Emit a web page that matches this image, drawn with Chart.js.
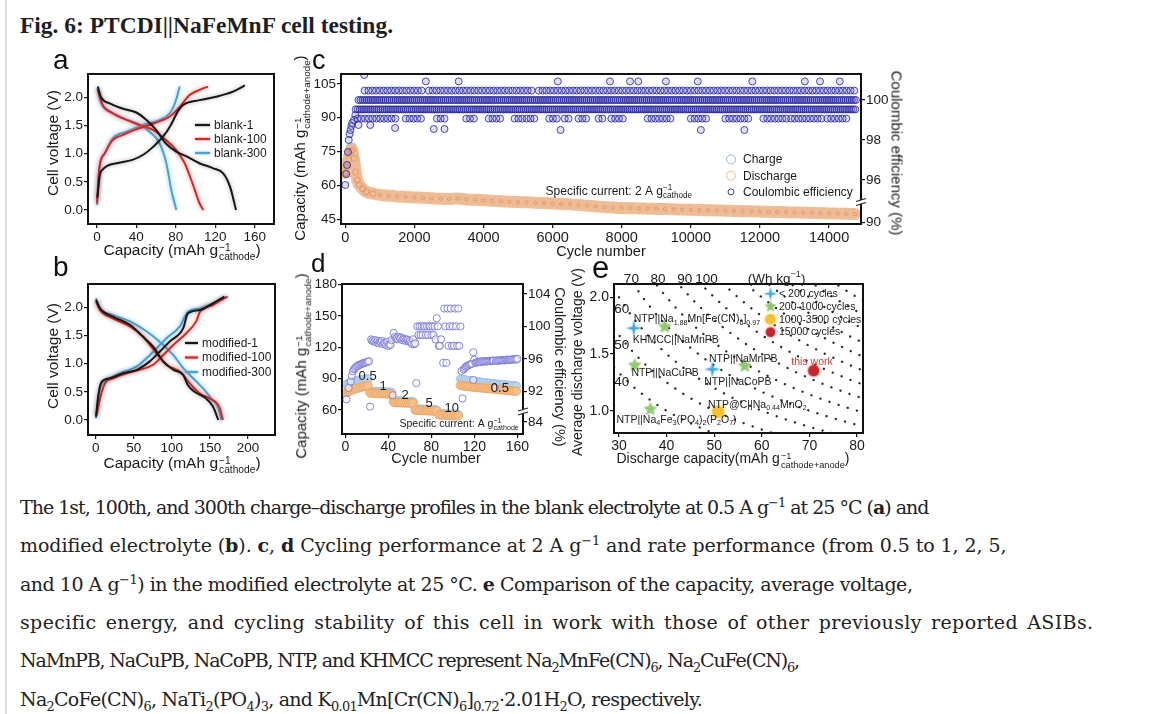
<!DOCTYPE html>
<html lang="en"><head><meta charset="utf-8"><title>Fig. 6: PTCDI||NaFeMnF cell testing</title>
<script src="https://cdn.jsdelivr.net/npm/chart.js@4.4.1/dist/chart.umd.min.js"></script>
<style>
html,body{margin:0;padding:0;background:#fff}
body{width:1152px;height:714px;position:relative;overflow:hidden;font-family:'Liberation Sans',Arial,sans-serif;color:#1a1a1a}
#bar{position:absolute;left:5px;top:0;width:2px;height:714px;background:#dcdcdc}
#title{position:absolute;left:20px;top:13px;font-family:'Liberation Serif',serif;font-weight:bold;font-size:24px;line-height:24px;white-space:nowrap;transform-origin:0 0;color:#1f1f1f}
canvas{position:absolute}
.pl{position:absolute;line-height:1;color:#111}
.at{position:absolute;white-space:nowrap;line-height:1;color:#1a1a1a;transform:translate(-50%,-50%)}
.at.ccw{transform:translate(-50%,-50%) rotate(-90deg)}
.at.cw{transform:translate(-50%,-50%) rotate(90deg)}
.ss{display:inline-flex;flex-direction:column;font-size:0.66em;line-height:0.95;vertical-align:0.42em;margin-left:1px}
#cap{position:absolute;left:20px;top:488px;font-family:'DejaVu Serif',serif;font-size:19px;color:#222}
#cap div{height:38.33px;line-height:38.33px;white-space:nowrap;width:max-content}
#cap sub,#cap sup{font-size:0.68em;line-height:0}
</style></head>
<body>
<div id="bar"></div>
<div id="title">Fig. 6: PTCDI||NaFeMnF cell testing.</div>

<canvas id="ca"></canvas><canvas id="cb"></canvas><canvas id="cc"></canvas><canvas id="cd"></canvas><canvas id="ce"></canvas>

<div class="pl" style="left:53px;top:46px;font-size:28px">a</div>
<div class="pl" style="left:53px;top:253px;font-size:28px">b</div>
<div class="pl" style="left:312px;top:47px;font-size:27px">c</div>
<div class="pl" style="left:311px;top:250px;font-size:26px">d</div>
<div class="pl" style="left:592px;top:252px;font-size:31px">e</div>

<div class="at ccw" style="left:53px;top:143px;font-size:15.5px">Cell voltage (V)</div>
<div class="at" style="left:182px;top:252px;font-size:15.5px">Capacity (mAh g<span class="ss"><span>−1</span><span>cathode</span></span>)</div>
<div class="at ccw" style="left:53px;top:356px;font-size:15.5px">Cell voltage (V)</div>
<div class="at" style="left:182px;top:465px;font-size:15.5px">Capacity (mAh g<span class="ss"><span>−1</span><span>cathode</span></span>)</div>

<div class="at ccw" style="left:302px;top:148px;font-size:15px">Capacity (mAh g<span class="ss"><span>−1</span><span>cathode+anode</span></span>)</div>
<div class="at cw" style="left:897px;top:153px;font-size:15px">Coulombic efficiency (%)</div>
<div class="at" style="left:601px;top:251px;font-size:14.5px">Cycle number</div>

<div class="at ccw" style="left:303px;top:366px;font-size:15px">Capacity (mAh g<span class="ss"><span>−1</span><span>cathode+anode</span></span>)</div>
<div class="at cw" style="left:560px;top:367px;font-size:14.5px">Coulombic efficiency (%)</div>
<div class="at" style="left:436px;top:458px;font-size:14.5px">Cycle number</div>

<div class="at ccw" style="left:577px;top:362px;font-size:14px">Average discharge voltage (V)</div>
<div class="at" style="left:733px;top:460px;font-size:14px">Discharge capacity(mAh g<span class="ss"><span>−1</span><span>cathode+anode</span></span>)</div>

<div id="cap">
<div data-w="908">The 1st, 100th, and 300th charge–discharge profiles in the blank electrolyte at 0.5 A g<sup>−1</sup> at 25 °C (<b>a</b>) and</div>
<div data-w="986">modified electrolyte (<b>b</b>). <b>c</b>, <b>d</b> Cycling performance at 2 A g<sup>−1</sup> and rate performance (from 0.5 to 1, 2, 5,</div>
<div data-w="892">and 10 A g<sup>−1</sup>) in the modified electrolyte at 25 °C. <b>e</b> Comparison of the capacity, average voltage,</div>
<div data-w="1073">specific energy, and cycling stability of this cell in work with those of other previously reported ASIBs.</div>
<div data-w="779">NaMnPB, NaCuPB, NaCoPB, NTP, and KHMCC represent Na<sub>2</sub>MnFe(CN)<sub>6</sub>, Na<sub>2</sub>CuFe(CN)<sub>6</sub>,</div>
<div data-w="682">Na<sub>2</sub>CoFe(CN)<sub>6</sub>, NaTi<sub>2</sub>(PO<sub>4</sub>)<sub>3</sub>, and K<sub>0.01</sub>Mn[Cr(CN)<sub>6</sub>]<sub>0.72</sub>·2.01H<sub>2</sub>O, respectively.</div>
</div>

<script>
// ---------------- DATA ----------------
// (a) blank electrolyte: [capacity mAh/g, voltage V]
const aLabels = ['blank-1', 'blank-100', 'blank-300'];
const blank1Charge = [[0.5,0.22],[3,0.62],[6,0.72],[10,0.78],[20,0.83],[36,0.89],[47,0.98],[57,1.12],[67,1.30],[75,1.51],[82,1.75],[87,1.86],[104,1.95],[121,2.01],[138,2.10],[150,2.21]];
const blank1Discharge = [[1,2.19],[4,2.01],[13,1.89],[26,1.80],[40,1.73],[50,1.60],[60,1.42],[70,1.18],[80,1.04],[91,0.95],[104,0.83],[118,0.74],[128,0.65],[135,0.41],[141,0.0]];
const blank100Charge = [[0,0.12],[2.7,0.77],[7.8,1.0],[16,1.24],[26,1.33],[43,1.45],[60,1.55],[74,1.66],[84,1.83],[94,2.04],[104,2.13],[112.6,2.19]];
const blank100Discharge = [[1,2.13],[6,1.86],[16,1.72],[30,1.60],[43,1.51],[57,1.42],[70,1.24],[80,1.07],[89,0.83],[97,0.47],[104,0.12],[108,0.0]];
const blank300Charge = [[0.3,0.09],[2.7,0.77],[7.8,1.0],[16,1.27],[30,1.39],[47,1.51],[64,1.60],[74,1.72],[79,1.89],[84,2.19]];
const blank300Discharge = [[0.3,2.16],[4.4,1.89],[13,1.75],[26,1.63],[40,1.54],[53.5,1.39],[63.6,1.18],[70.4,0.83],[75.4,0.36],[80.5,0.0]];
const aXTicks = [0, 40, 80, 120, 160];
const aXTickLabels = ['0', '40', '80', '120', '160'];

// (b) modified electrolyte
const bLabels = ['modified-1', 'modified-100', 'modified-300'];
const mod1Charge = [[0.4,0.06],[3.5,0.44],[7.9,0.68],[18.8,0.74],[36,0.83],[54,0.89],[71,1.04],[84,1.21],[97,1.39],[115,1.63],[121,1.89],[137,1.95],[154,2.07],[169,2.19]];
const mod1Discharge = [[0.4,2.13],[5.7,1.98],[23,1.83],[45,1.69],[62,1.48],[75.5,1.30],[88.6,1.04],[102,0.89],[115,0.80],[121,0.62],[130,0.50],[145,0.38],[154,0.24],[161,0.0]];
const mod100Charge = [[1.3,0.09],[5.7,0.38],[12.2,0.65],[23,0.74],[40.6,0.83],[58,0.89],[75.5,0.98],[88.6,1.15],[102,1.33],[119,1.54],[132,1.75],[137,1.92],[154,2.04],[172,2.19]];
const mod100Discharge = [[0.4,2.10],[5.7,1.95],[23,1.80],[45,1.66],[62,1.48],[80,1.18],[93,0.98],[110.5,0.86],[123.6,0.65],[137,0.47],[150,0.38],[163,0.21],[167,0.0]];
const mod300Charge = [[0.4,0.03],[5.7,0.56],[14.4,0.71],[32,0.83],[54,0.95],[71,1.15],[93,1.45],[110.5,1.66],[121,1.92],[137,1.98],[154,2.07],[174,2.19]];
const mod300Discharge = [[0.4,2.16],[5.7,1.98],[23,1.86],[45,1.75],[67,1.57],[84,1.39],[102,1.15],[115,0.92],[128,0.74],[141,0.56],[152,0.38],[161,0.21],[165,0.0]];
const bXTicks = [0, 50, 100, 150, 200];
const bXTickLabels = ['0', '50', '100', '150', '200'];
const vTicks = [0, 0.5, 1.0, 1.5, 2.0];
const vTickLabels = ['0.0', '0.5', '1.0', '1.5', '2.0'];

// (c) long cycling at 2 A/g
const cLabels = ['Charge', 'Discharge', 'Coulombic efficiency'];
const cCycles = [0,50,100,150,200,250,300,350,400,500,600,800,1000,1250,1500,1750,2000,2250,2500,2750,3000,3250,3500,3750,4000,4250,4500,4750,5000,5250,5500,5750,6000,6250,6500,6750,7000,7250,7500,7750,8000,8250,8500,8750,9000,9250,9500,9750,10000,10250,10500,10750,11000,11250,11500,11750,12000,12250,12500,12750,13000,13250,13500,13750,14000,14250,14500,14750];
const cDischarge = [65.5,68,71.5,75,75.7,72,66,62.4,60.3,58.5,57.2,56.3,55.8,55.4,55.1,54.9,54.7,54.5,54.3,54.1,54.0,54.2,53.8,53.6,53.4,53.2,53.0,52.8,52.6,52.5,52.3,52.2,52.0,51.8,51.6,51.3,51.0,50.7,50.4,50.2,50.0,49.9,49.8,49.7,49.6,49.5,49.4,49.3,49.2,49.1,49.0,48.9,48.8,48.7,48.6,48.5,48.4,48.3,48.2,48.1,48.0,47.9,47.8,47.7,47.6,47.5,47.4,47.3];
const cCharge = [69,71,73.5,76.5,76.8,73,67,63,60.8,58.9,57.5,56.5,56.0,55.6,55.3,55.1,54.9,54.7,54.5,54.3,54.2,54.4,54.0,53.8,53.6,53.4,53.2,53.0,52.8,52.7,52.5,52.4,52.2,52.0,51.8,51.5,51.2,50.9,50.6,50.4,50.2,50.1,50.0,49.9,49.8,49.7,49.6,49.5,49.4,49.3,49.2,49.1,49.0,48.9,48.8,48.7,48.6,48.5,48.4,48.3,48.2,48.1,48.0,47.9,47.8,47.7,47.6,47.5];
const cCeEarlyCycles = [0,25,50,75,100,125,150,175,200,250,290];
const cCeEarlyValues = [95.75,96.3,96.75,97.4,98.0,98.3,98.5,98.7,98.85,99.0,99.25];
const cCeLevels = [100.47, 100.0, 99.53, 99.07];           // quantised CE rows (%)
const cCeRowSpans = [                                       // cycle ranges in which each row is populated
  [[560,2300],[2420,5480],[5600,14800]],
  [[380,14800]],
  [[300,14800]],
  [[350,1550],[1750,2250],[2650,2950],[3500,3750],[4150,4550],[4900,5150],[5250,5500],[5900,6150],[6350,6550],[6750,7050],[7330,7500],[7700,8100],[8750,9500],[10000,10500],[11000,11700],[12100,12850],[12900,13850],[13950,14600]]
];
const cCeRowSteps = [110, 60, 60, 110];                      // sampling of the 15000 cycles
const cCeOutCycles = [546,2330,3280,6150,7660,8240,8480,9280,10200,11780,13300,13740,14310,380,720,1440,2560,2870,6230,10290,11550];
const cCeOutValues = [101.25,100.93,100.93,100.93,100.93,100.93,100.93,100.93,100.93,100.93,100.93,100.93,100.93,98.75,98.75,98.6,98.55,98.55,98.5,98.5,98.5];
const cXTicks = [0,2000,4000,6000,8000,10000,12000,14000];
const cXTickLabels = ['0','2000','4000','6000','8000','10000','12000','14000'];
const cYTicks = [45,60,75,90,105];
const cYTickLabels = ['45','60','75','90','105'];
const cY2TickPos = [93.87, 96, 98, 100];      // broken right axis
const cY2TickLabels = ['90', '96', '98', '100'];

// (d) rate performance
const dCycles = [1,3,5,7,9,11,13,15,17,19,21,23,25,27,29,31,33,35,37,39,41,43,45,47,49,51,53,55,57,59,61,63,65,67,69,71,73,75,77,79,81,83,85,87,89,91,93,95,97,99,101,103,105,107,109,111,113,115,117,119,121,123,125,127,129,131,133,135,137,139,141,143,145,147,149,151,153,155,157,159];
const dDischarge = [76.5,77.5,78.5,79.3,80.0,80.7,81.3,81.9,82.4,82.9,83.3, 76.3,76.1,76.0,75.9,75.8,75.7,75.6,75.5,75.4,75.3,75.2, 67.3,67.2,67.1,67.0,66.9,66.8,66.7,66.6,66.5,66.4, 59.8,59.7,59.6,59.5,59.4,59.3,59.2,59.1,59.0,58.9,58.8, 55.3,55.2,55.1,55.0,54.9,54.8,54.7,54.6,54.5,54.4, 83.5,83.2,82.9,82.6,82.4,82.1,81.9,81.7,81.5,81.3,81.1,80.9,80.7,80.5,80.3,80.1,79.9,79.7,79.5,79.3,79.1,78.9,78.7,78.5,78.3,78.1,77.9];
const dCharge = [84.5,85.4,86.2,86.9,87.5,88.0,88.4,88.8,89.1,89.4,89.6, 78.0,77.8,77.7,77.6,77.5,77.4,77.3,77.2,77.1,77.0,76.9, 68.8,68.7,68.6,68.5,68.4,68.3,68.2,68.1,68.0,67.9, 61.0,60.9,60.8,60.7,60.6,60.5,60.4,60.3,60.2,60.1,60.0, 56.5,56.4,56.3,56.2,56.1,56.0,55.9,55.8,55.7,55.6, 89.6,89.2,88.8,88.4,88.1,87.8,87.5,87.2,86.9,86.6,86.4,86.1,85.9,85.6,85.4,85.2,85.0,84.7,84.5,84.3,84.1,83.9,83.7,83.5,83.3,83.1,82.9];
const dCeCycles = [1,3,5,6,7,8,9,10,11,12,13,14,15,16,17,18,19,20,21,22,23,
  24,25,26,27,28,29,30,31,32,33,34,35,36,37,38,39,40,41,42,43,44,
  45,46,47,48,49,50,51,52,53,54,55,56,57,58,59,60,61,62,63,64,65,66,
  67,68,69,70,71,72,73,74,75,76,77,78,79,80,81,82,83,84,85,86,
  87,88,89,91,92,93,94,95,96,97,98,99,100,101,102,103,104,105,106,107,
  108,109,110,111,112,113,114,115,116,117,118,119,119,120,121,122,123,124,125,126,127,128,129,130,131,132,133,134,135,136,137,138,139,140,141,142,143,144,145,146,147,148,149,150,151,152,153,154,155,156,157,158,159,160];
const dCeValues = [91.0,92.4,93.2,93.9,94.45,94.7,94.86,95.0,95.1,95.15,95.25,95.3,95.35,95.44,95.47,95.5,95.55,95.6,95.65,95.7,90.1,
  98.4,98.2,98.3,98.1,98.3,98.0,98.2,97.9,98.1,98.0,98.2,97.8,98.0,97.9,97.7,98.1,97.6,97.8,97.7,98.3,91.5,
  99.2,98.7,98.5,98.6,98.4,98.7,98.5,98.6,98.3,98.5,98.4,98.2,98.4,98.3,98.1,98.2,98.0,97.8,98.4,97.8,97.9,93.0,
  100.0,98.94,100.0,98.94,100.0,98.94,100.0,100.0,98.94,100.0,98.94,100.0,100.0,98.94,100.0,98.94,100.0,98.4,101.0,100.0,
  97.6,97.6,98.4,95.5,102.2,100.0,95.5,102.2,97.6,100.0,102.2,97.6,100.0,97.6,102.2,100.0,97.6,102.2,97.6,100.0,
  94.5,91.1,94.7,94.85,95.0,95.1,95.15,95.25,95.3,95.35,95.4,96.8,93.4,95.9,95.5,95.55,95.6,95.6,95.65,95.6,95.7,95.65,95.7,95.7,95.65,95.7,95.75,95.7,95.75,95.7,95.75,95.8,92.4,95.75,95.8,95.75,95.8,95.8,95.85,95.8,95.85,95.8,95.85,95.9,95.85,95.9,95.85,95.9,95.9,95.95,95.9,95.95,95.9,96.0];
const dRateLabels = ['0.5', '1', '2', '5', '10', '0.5'];
const dXTicks = [0, 40, 80, 120, 160];
const dXTickLabels = ['0', '40', '80', '120', '160'];
const dYTicks = [60, 90, 120, 150, 180];
const dYTickLabels = ['60', '90', '120', '150', '180'];
const dY2TickPos = [88.2, 92, 96, 100, 104];   // broken right axis
const dY2TickLabels = ['84', '92', '96', '100', '104'];

// (e) comparison: [discharge capacity, average discharge voltage]
const eLabels = ['< 200 cycles', '200-1000 cycles', '1000-3500 cycles', '15000 cycles'];
const eBelow200 = [[33.1,1.727],[49.6,1.365]];
const e200to1000 = [[39.6,1.74],[33.3,1.40],[56.4,1.394],[36.6,1.012]];
const e1000to3500 = [[50.8,0.99]];
const e15000 = [[70.9,1.353]];
const eCellNames = ['NTP||Na_{1.88}Mn[Fe(CN)_{6}]_{0.97}', 'KHMCC||NaMnPB', 'NTP||NaCuPB', 'NTP||NaMnPB', 'this work', 'NTP||NaCoPB', 'NTP@C||Na_{0.44}MnO_{2}', 'NTP||Na_{4}Fe_{3}(PO_{4})_{2}(P_{2}O_{7})'];
const eEnergyLevels = [40,50,60,70,80,90,100,110,120,130,140,150,160];   // Wh/kg iso-lines
const eEnergyTopLabels = ['70', '80', '90', '100', '(Wh kg^{−1})'];
const eEnergyLeftLabels = ['60', '50', '40'];
const eXTicks = [30,40,50,60,70,80];
const eXTickLabels = ['30','40','50','60','70','80'];
const eYTicks = [1.0, 1.5, 2.0];
const eYTickLabels = ['1.0', '1.5', '2.0'];

// ---------------- HELPERS ----------------
const FONT = "'Liberation Sans', Arial, Helvetica, sans-serif";
Chart.defaults.font.family = FONT;
Chart.defaults.color = '#1a1a1a';

function drawRich(ctx, str, x, y, size, align, color) {
  const toks = [];
  const re = /\^\{([^}]*)\}_\{([^}]*)\}|\^\{([^}]*)\}|_\{([^}]*)\}|([^_^]+)/g;
  let m;
  while ((m = re.exec(str))) {
    if (m[1] !== undefined) toks.push({sup: m[1], sub: m[2]});
    else if (m[3] !== undefined) toks.push({sup: m[3]});
    else if (m[4] !== undefined) toks.push({sub: m[4]});
    else toks.push({t: m[5]});
  }
  const big = size + 'px ' + FONT, small = (size * 0.68) + 'px ' + FONT;
  ctx.save();
  const widths = toks.map(tk => {
    if (tk.t !== undefined) { ctx.font = big; return ctx.measureText(tk.t).width; }
    ctx.font = small;
    return Math.max(tk.sup ? ctx.measureText(tk.sup).width : 0, tk.sub ? ctx.measureText(tk.sub).width : 0);
  });
  const total = widths.reduce((a, b) => a + b, 0);
  let cx = align === 'center' ? x - total / 2 : align === 'right' ? x - total : x;
  ctx.fillStyle = color; ctx.textAlign = 'left'; ctx.textBaseline = 'alphabetic';
  toks.forEach((tk, i) => {
    if (tk.t !== undefined) { ctx.font = big; ctx.fillText(tk.t, cx, y); }
    else {
      ctx.font = small;
      if (tk.sup) ctx.fillText(tk.sup, cx, y - size * 0.42);
      if (tk.sub) ctx.fillText(tk.sub, cx, y + size * 0.26);
    }
    cx += widths[i];
  });
  ctx.restore();
  return total;
}

const framePlugin = {
  id: 'frame',
  afterDatasetsDraw(chart) {
    const {ctx, chartArea: a} = chart;
    ctx.save(); ctx.strokeStyle = '#111'; ctx.lineWidth = 2;
    ctx.strokeRect(a.left, a.top, a.right - a.left, a.bottom - a.top);
    ctx.restore();
  }
};
const glowPlugin = {
  id: 'glow',
  beforeDatasetDraw(chart, args) {
    const ds = chart.data.datasets[args.index];
    if (ds.glow) { chart.ctx.save(); chart.ctx.shadowColor = ds.glow; chart.ctx.shadowBlur = 4; }
  },
  afterDatasetDraw(chart, args) {
    if (chart.data.datasets[args.index].glow) chart.ctx.restore();
  }
};
const energyPlugin = {
  id: 'energyGrid',
  beforeDatasetsDraw(chart, args, o) {
    if (!o || !o.levels) return;
    const {ctx, chartArea: a, scales: {x, y}} = chart;
    ctx.save();
    ctx.beginPath(); ctx.rect(a.left, a.top, a.right - a.left, a.bottom - a.top); ctx.clip();
    ctx.strokeStyle = o.color; ctx.lineWidth = o.width; ctx.lineCap = 'round'; ctx.setLineDash(o.dash);
    o.levels.forEach(E => {
      ctx.beginPath();
      let first = true;
      for (let px = a.left; px <= a.right; px += 1.5) {
        const py = y.getPixelForValue(E / x.getValueForPixel(px));
        if (first) { ctx.moveTo(px, py); first = false; } else ctx.lineTo(px, py);
      }
      ctx.stroke();
    });
    ctx.restore();
  }
};
const breakPlugin = {
  id: 'axisBreak',
  afterDraw(chart, args, o) {
    if (!o || !o.marks) return;
    const {ctx, chartArea: a} = chart;
    o.marks.forEach(mk => {
      const y = chart.scales[mk.axis].getPixelForValue(mk.value), x = a.right;
      ctx.save();
      ctx.fillStyle = '#fff'; ctx.fillRect(x - 2, y - 2, 4, 4);
      ctx.strokeStyle = '#222'; ctx.lineWidth = 1.1;
      ctx.beginPath();
      ctx.moveTo(x - 5, y - 0.5); ctx.lineTo(x + 5, y - 3.5);
      ctx.moveTo(x - 5, y + 3.5); ctx.lineTo(x + 5, y + 0.5);
      ctx.stroke();
      ctx.restore();
    });
  }
};
const legendPlugin = {
  id: 'inLegend',
  afterDraw(chart, args, o) {
    if (!o || !o.items) return;
    const {ctx, chartArea: a} = chart;
    o.items.forEach((it, i) => {
      const ds = chart.data.datasets[it.ds];
      const x = a.left + o.x, y = a.top + o.y + i * o.dy;
      ctx.save();
      if (it.kind === 'line') {
        ctx.strokeStyle = ds.borderColor; ctx.lineWidth = 2.2;
        if (ds.glow) { ctx.shadowColor = ds.glow; ctx.shadowBlur = 3; }
        ctx.beginPath(); ctx.moveTo(x, y); ctx.lineTo(x + o.len, y); ctx.stroke();
      } else if (it.kind === 'img') {
        const im = ds.pointStyle, s = it.scale || 1;
        ctx.drawImage(im, x + o.len / 2 - im.width * s / 2, y - im.height * s / 2, im.width * s, im.height * s);
      } else {
        ctx.strokeStyle = it.stroke; ctx.lineWidth = 1;
        ctx.beginPath(); ctx.arc(x + o.len / 2, y, it.r, 0, 2 * Math.PI); ctx.stroke();
      }
      ctx.restore();
      ctx.save();
      ctx.font = o.size + 'px ' + FONT; ctx.fillStyle = '#1a1a1a'; ctx.textBaseline = 'middle'; ctx.textAlign = 'left';
      ctx.fillText(ds.label, x + o.len + o.gap, y + 0.5);
      ctx.restore();
    });
  }
};
const notesPlugin = {
  id: 'notes',
  afterDraw(chart, args, o) {
    if (!o || !o.items) return;
    o.items.forEach(it => {
      const px = chart.scales[it.xAxis || 'x'].getPixelForValue(it.x);
      const py = chart.scales[it.yAxis || 'y'].getPixelForValue(it.y);
      drawRich(chart.ctx, it.text, px, py, it.size || o.size, it.align || 'left', it.color || '#1a1a1a');
    });
  }
};
Chart.register(framePlugin, glowPlugin, energyPlugin, breakPlugin, legendPlugin, notesPlugin);

function lin(min, max, ticksArr, labelsArr, fontSize, position) {
  return {
    type: 'linear', min, max, position: position || undefined,
    afterBuildTicks: s => { s.ticks = ticksArr.map(v => ({value: v})); },
    ticks: {
      font: {size: fontSize}, color: '#1a1a1a', padding: 1, autoSkip: false, maxRotation: 0,
      callback: v => { const i = ticksArr.indexOf(v); return i >= 0 ? labelsArr[i] : ''; }
    },
    grid: {display: true, drawOnChartArea: false, drawTicks: true, tickLength: 4, color: '#111', lineWidth: 1.2},
    border: {display: false}
  };
}
function makeChart(id, box, pad, config) {
  const cv = document.getElementById(id);
  const W = box.r - box.l + pad.l + pad.r, H = box.b - box.t + pad.t + pad.b;
  cv.style.left = (box.l - pad.l) + 'px'; cv.style.top = (box.t - pad.t) + 'px';
  cv.style.width = W + 'px'; cv.style.height = H + 'px'; cv.width = W; cv.height = H;
  const o = config.options;
  o.responsive = false; o.animation = false; o.events = [];
  const sc = o.scales;
  o.layout = {padding: {top: pad.t, left: 0, bottom: 0, right: sc.y2 ? 0 : pad.r}};
  sc.x.afterFit = s => { s.height = pad.b; };
  sc.y.afterFit = s => { s.width = pad.l; };
  if (sc.y2) sc.y2.afterFit = s => { s.width = pad.r; };
  o.plugins = Object.assign({legend: {display: false}, tooltip: {enabled: false}}, o.plugins || {});
  return new Chart(cv, config);
}
const pts = arr => arr.map(p => ({x: p[0], y: p[1]}));
const zip = (xs, ys) => xs.map((x, i) => ({x, y: ys[i]}));
function curve(label, arr, color, glow) {
  return {label, data: pts(arr), borderColor: color, backgroundColor: color, borderWidth: 2, pointRadius: 0,
    cubicInterpolationMode: 'monotone', fill: false, glow};
}
const BLACK = '#161616', RED = '#cf2b2b', BLUE = '#4aa2d2';
const GBLACK = 'rgba(0,0,0,0.35)', GRED = 'rgba(235,90,90,0.75)', GBLUE = 'rgba(90,175,225,0.75)';

// ---------------- (a) ----------------
makeChart('ca', {l: 88, t: 74, r: 274, b: 224}, {l: 46, t: 12, r: 12, b: 28}, {
  type: 'line',
  data: {datasets: [
    curve(aLabels[0], blank1Charge, BLACK, GBLACK), curve('', blank1Discharge, BLACK, GBLACK),
    curve(aLabels[1], blank100Charge, RED, GRED), curve('', blank100Discharge, RED, GRED),
    curve(aLabels[2], blank300Charge, BLUE, GBLUE), curve('', blank300Discharge, BLUE, GBLUE)
  ]},
  options: {
    scales: {x: lin(-9, 179.5, aXTicks, aXTickLabels, 13.5), y: lin(-0.248, 2.413, vTicks, vTickLabels, 13.5)},
    plugins: {inLegend: {x: 107, y: 51, dy: 14, len: 15, gap: 4, size: 12,
      items: [{ds: 0, kind: 'line'}, {ds: 2, kind: 'line'}, {ds: 4, kind: 'line'}]}}
  }
});

// ---------------- (b) ----------------
makeChart('cb', {l: 88, t: 284, r: 275, b: 435}, {l: 46, t: 12, r: 12, b: 28}, {
  type: 'line',
  data: {datasets: [
    curve(bLabels[0], mod1Charge, BLACK, GBLACK), curve('', mod1Discharge, BLACK, GBLACK),
    curve(bLabels[1], mod100Charge, RED, GRED), curve('', mod100Discharge, RED, GRED),
    curve(bLabels[2], mod300Charge, BLUE, GBLUE), curve('', mod300Discharge, BLUE, GBLUE)
  ]},
  options: {
    scales: {x: lin(-10.1, 235.5, bXTicks, bXTickLabels, 13.5), y: lin(-0.266, 2.413, vTicks, vTickLabels, 13.5)},
    plugins: {inLegend: {x: 97, y: 59, dy: 14.5, len: 13, gap: 4, size: 12,
      items: [{ds: 0, kind: 'line'}, {ds: 2, kind: 'line'}, {ds: 4, kind: 'line'}]}}
  }
});

// ---------------- (c) ----------------
const cCePoints = zip(cCeEarlyCycles, cCeEarlyValues);
cCeLevels.forEach((lvl, r) => {
  cCeRowSpans[r].forEach(([from, to]) => {
    for (let cy = from; cy <= to; cy += cCeRowSteps[r]) cCePoints.push({x: cy, y: lvl});
  });
});
zip(cCeOutCycles, cCeOutValues).forEach(p => cCePoints.push(p));

makeChart('cc', {l: 341, t: 74, r: 861, b: 224}, {l: 40, t: 12, r: 32, b: 26}, {
  type: 'scatter',
  data: {datasets: [
    {label: cLabels[2], data: cCePoints, yAxisID: 'y2', order: 0, pointRadius: 3.5, pointBorderWidth: 1,
      pointBorderColor: 'rgba(35,35,155,0.8)', pointBackgroundColor: 'rgba(70,70,200,0.18)'},
    {label: cLabels[1], data: zip(cCycles, cDischarge), yAxisID: 'y', order: 1, showLine: true,
      borderColor: 'rgba(240,188,146,0.95)', borderWidth: 12, tension: 0.3, borderCapStyle: 'round',
      pointRadius: c => (c.raw && c.raw.x < 900 ? 3 : 1.6), pointBorderWidth: 1,
      pointBorderColor: 'rgba(226,145,88,0.8)', pointBackgroundColor: 'rgba(0,0,0,0)'},
    {label: cLabels[0], data: zip(cCycles, cCharge), yAxisID: 'y', order: 2, showLine: true,
      borderColor: 'rgba(170,188,228,0.9)', borderWidth: 10, tension: 0.3, borderCapStyle: 'round',
      pointRadius: c => (c.raw && c.raw.x < 900 ? 3 : 0), pointBorderWidth: 1,
      pointBorderColor: 'rgba(140,160,215,0.9)', pointBackgroundColor: 'rgba(0,0,0,0)'}
  ]},
  options: {
    scales: {
      x: lin(-125, 14925, cXTicks, cXTickLabels, 14.5),
      y: lin(42.9, 109.4, cYTicks, cYTickLabels, 13.5),
      y2: lin(93.8, 101.3, cY2TickPos, cY2TickLabels, 13.5, 'right')
    },
    plugins: {
      inLegend: {x: 385, y: 85.5, dy: 16.2, len: 10, gap: 7, size: 12,
        items: [{ds: 2, kind: 'circle', stroke: '#9aaedb', r: 4.5}, {ds: 1, kind: 'circle', stroke: '#f1b58c', r: 4.5}, {ds: 0, kind: 'circle', stroke: '#3a3a9a', r: 3}]},
      notes: {size: 12, items: [{text: 'Specific current: 2 A g^{−1}_{cathode}', x: 5797, y: 55.9}]},
      axisBreak: {marks: [{axis: 'y2', value: 94.9}]}
    }
  }
});

// ---------------- (d) ----------------
makeChart('cd', {l: 342, t: 284, r: 523, b: 434}, {l: 36, t: 10, r: 30, b: 26}, {
  type: 'scatter',
  data: {datasets: [
    {label: 'Coulombic efficiency', data: zip(dCeCycles, dCeValues), yAxisID: 'y2', order: 0, pointRadius: 3.6, pointBorderWidth: 1,
      pointBorderColor: 'rgba(120,120,215,0.9)', pointBackgroundColor: 'rgba(255,255,255,0.5)'},
    {label: 'Discharge', data: zip(dCycles, dDischarge), yAxisID: 'y', order: 1, pointRadius: 4.2, pointBorderWidth: 1,
      pointBorderColor: 'rgba(236,165,100,0.95)', pointBackgroundColor: 'rgba(246,192,140,0.95)'},
    {label: 'Charge', data: zip(dCycles, dCharge), yAxisID: 'y', order: 2, pointRadius: 4.2, pointBorderWidth: 1,
      pointBorderColor: 'rgba(160,192,228,0.95)', pointBackgroundColor: 'rgba(186,212,238,0.95)'}
  ]},
  options: {
    scales: {
      x: lin(-3.1, 165.2, dXTicks, dXTickLabels, 14),
      y: lin(37, 180.5, dYTicks, dYTickLabels, 13.5),
      y2: lin(86.72, 105.23, dY2TickPos, dY2TickLabels, 13.5, 'right')
    },
    plugins: {
      notes: {size: 13, items: [
        {text: dRateLabels[0], x: 20.7, y: 88.3, align: 'center'},
        {text: dRateLabels[1], x: 35.1, y: 79.0, align: 'center'},
        {text: dRateLabels[2], x: 55.6, y: 70.5, align: 'center'},
        {text: dRateLabels[3], x: 77.8, y: 62.4, align: 'center'},
        {text: dRateLabels[4], x: 98.9, y: 57.8, align: 'center'},
        {text: dRateLabels[5], x: 143.7, y: 77.2, align: 'center'},
        {text: 'Specific current: A g^{−1}_{cathode}', x: 161.3, y: 43.6, align: 'right', size: 10.5}
      ]},
      axisBreak: {marks: [{axis: 'y2', value: 89.5}]}
    }
  }
});

// ---------------- (e) ----------------
function starImg(n, outer, inner, color, blur) {
  const s = Math.ceil(2 * (outer + blur + 2));
  const c = document.createElement('canvas'); c.width = s; c.height = s;
  const x = c.getContext('2d'); x.translate(s / 2, s / 2);
  x.shadowColor = color; x.shadowBlur = blur;
  x.beginPath();
  for (let i = 0; i < 2 * n; i++) {
    const r = i % 2 ? inner : outer, ang = -Math.PI / 2 + i * Math.PI / n;
    x.lineTo(r * Math.cos(ang), r * Math.sin(ang));
  }
  x.closePath(); x.fillStyle = color; x.fill();
  return c;
}
function dotImg(r, color, blur) {
  const s = Math.ceil(2 * (r + blur + 2));
  const c = document.createElement('canvas'); c.width = s; c.height = s;
  const x = c.getContext('2d');
  x.shadowColor = color; x.shadowBlur = blur;
  x.beginPath(); x.arc(s / 2, s / 2, r, 0, 2 * Math.PI); x.fillStyle = color; x.fill();
  return c;
}
const imBlue = starImg(4, 8, 1.8, '#3ea8dc', 2);
const imGreen = starImg(5, 7, 3, '#93c873', 2);
const imYellow = dotImg(6, '#f3c030', 4);
const imRed = dotImg(5.5, '#c8262c', 3);

makeChart('ce', {l: 614, t: 284, r: 863, b: 433}, {l: 40, t: 24, r: 14, b: 26}, {
  type: 'scatter',
  data: {datasets: [
    {label: eLabels[0], data: pts(eBelow200), pointStyle: imBlue, pointRadius: 8},
    {label: eLabels[1], data: pts(e200to1000), pointStyle: imGreen, pointRadius: 8},
    {label: eLabels[2], data: pts(e1000to3500), pointStyle: imYellow, pointRadius: 8},
    {label: eLabels[3], data: pts(e15000), pointStyle: imRed, pointRadius: 8}
  ]},
  options: {
    scales: {x: lin(28.95, 81.25, eXTicks, eXTickLabels, 14), y: lin(0.803, 2.117, eYTicks, eYTickLabels, 14)},
    plugins: {
      energyGrid: {levels: eEnergyLevels, color: '#2a2a2a', width: 2.3, dash: [0.1, 9.5]},
      inLegend: {x: 150, y: 9.7, dy: 12.8, len: 13, gap: 2, size: 10.5,
        items: [{ds: 0, kind: 'img', scale: 0.85}, {ds: 1, kind: 'img', scale: 0.85}, {ds: 2, kind: 'img', scale: 0.85}, {ds: 3, kind: 'img', scale: 0.85}]},
      notes: {size: 10.5, items: [
        {text: eCellNames[0], x: 33.1, y: 1.782},
        {text: eCellNames[1], x: 32.9, y: 1.595},
        {text: eCellNames[2], x: 32.6, y: 1.306},
        {text: eCellNames[3], x: 48.9, y: 1.432},
        {text: eCellNames[4], x: 66.2, y: 1.403, color: '#d23c3c'},
        {text: eCellNames[5], x: 47.9, y: 1.224},
        {text: eCellNames[6], x: 48.7, y: 1.027},
        {text: eCellNames[7], x: 29.45, y: 0.894},
        {text: eEnergyTopLabels[0], x: 32.6, y: 2.126, align: 'center', size: 13.5},
        {text: eEnergyTopLabels[1], x: 38.2, y: 2.126, align: 'center', size: 13.5},
        {text: eEnergyTopLabels[2], x: 43.8, y: 2.126, align: 'center', size: 13.5},
        {text: eEnergyTopLabels[3], x: 48.4, y: 2.126, align: 'center', size: 13.5},
        {text: eEnergyTopLabels[4], x: 63.1, y: 2.126, align: 'center', size: 13.5},
        {text: eEnergyLeftLabels[0], x: 30.57, y: 1.864, align: 'center', size: 13.5},
        {text: eEnergyLeftLabels[1], x: 30.57, y: 1.544, align: 'center', size: 13.5},
        {text: eEnergyLeftLabels[2], x: 30.57, y: 1.218, align: 'center', size: 13.5}
      ]}
    }
  }
});

// ---------------- text fitting ----------------
(function fitText() {
  const t = document.getElementById('title');
  const tw = t.getBoundingClientRect().width;
  t.style.transform = 'scaleX(' + (373 / tw) + ')';
  document.querySelectorAll('#cap div').forEach(el => {
    const target = +el.dataset.w;
    const w = el.getBoundingClientRect().width;
    const txt = el.textContent;
    const n = txt.length;
    const spaces = (txt.match(/ /g) || []).length || 1;
    const extra = target - w;
    if (extra > 0) {
      // share the difference between word gaps and letter gaps
      el.style.wordSpacing = (extra * 0.55 / spaces) + 'px';
      el.style.letterSpacing = (extra * 0.45 / n) + 'px';
    } else {
      el.style.letterSpacing = (extra / n) + 'px';
    }
  });
})();
</script>
</body></html>
